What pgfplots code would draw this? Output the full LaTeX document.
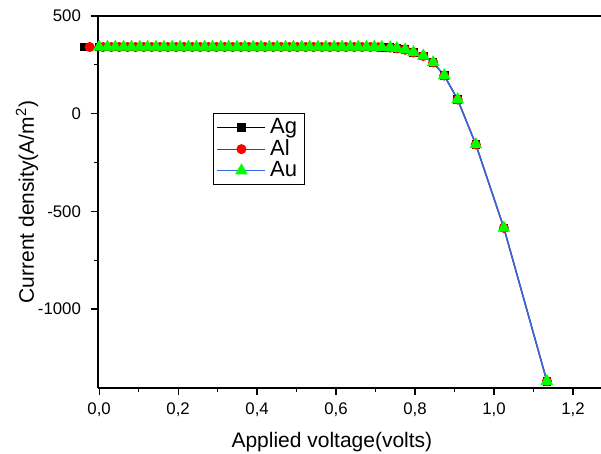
\documentclass[border=0pt]{standalone}
\usepackage{pgfplots}
\pgfplotsset{compat=1.18}
\usepackage{fontspec}
\setmainfont{Liberation Sans}
\definecolor{aublue}{RGB}{50,105,220}
\definecolor{augreen}{RGB}{0,255,0}
\begin{document}
\begin{tikzpicture}
\begin{axis}[
  name=ax,
  x=197.5pt, y=0.0977pt,
  xmin=-0.003, xmax=1.271, ymin=-1404, ymax=500,
  clip=false,
  axis x line*=box, axis y line*=left,
  axis line style={line width=0.75pt},
  every tick/.style={black, line width=0.6pt},
  tick align=outside,
  xtick pos=lower, ytick pos=left,
  major tick length=3.5pt, minor tick length=2pt,
  xtick={0,0.2,0.4,0.6,0.8,1.0,1.2},
  xticklabels={{0,0},{0,2},{0,4},{0,6},{0,8},{1,0},{1,2}},
  ytick={-1000,-500,0,500},
  yticklabels={-1000,-500,0,500},
  minor x tick num=1, minor y tick num=1,
  tick label style={font=\fontsize{8.4}{10}\selectfont},
  yticklabel style={xshift=-1.5pt},
  xticklabel style={yshift=-0.5pt},
  label style={font=\fontsize{10.5}{12}\selectfont},
  xlabel={Applied voltage(volts)},
  ylabel={Current density(A/m\textsuperscript{2})},
  xlabel style={at={(axis description cs:0.465,-0.145)}, anchor=center},
  ylabel style={at={(axis description cs:-0.141,0.5)}, anchor=center},
  legend style={at={(axis description cs:0.229,0.739)}, anchor=north west,
    draw=black, line width=0.5pt, font=\fontsize{11}{12}\selectfont,
    inner xsep=1.5pt, inner ysep=0.5pt, row sep=-2.5pt,
    /tikz/every even column/.append style={column sep=1.5pt}},
  legend cell align=left,
  legend image code/.code={\draw[mark repeat=2,mark phase=2] plot coordinates {(0pt,0pt)(12pt,0pt)(24pt,0pt)};},
]
\addplot[black, line width=0.5pt, mark=square*, mark size=1.9pt, mark options={solid, fill=black, draw=black}] coordinates {
(-0.038,341)(0,341)(0.021,341)(0.041,341)(0.062,341)(0.082,341)(0.103,341)(0.123,341)(0.144,341)(0.164,341)(0.185,341)
(0.205,341)(0.226,341)(0.246,341)(0.267,341)(0.287,341)(0.308,341)(0.328,341)(0.349,341)(0.369,341)(0.390,341)
(0.410,341)(0.431,341)(0.451,341)(0.472,341)(0.492,341)(0.513,341)(0.533,341)(0.554,341)(0.574,341)(0.595,341)
(0.615,341)(0.636,341)(0.656,341)(0.677,341)(0.697,341)(0.716,340)(0.737,338)(0.754,334)(0.775,327)(0.796,313)
(0.821,295)(0.846,262)(0.874,195)(0.908,72)(0.954,-158)(1.025,-585)(1.134,-1370)};
\addlegendentry{Ag}
\addplot[red, line width=0.6pt, mark=*, mark size=2.2pt, mark options={solid, fill=red, draw=red}] coordinates {
(-0.024,341)(0.010,341)(0.031,341)(0.051,341)(0.072,341)(0.092,341)(0.113,341)(0.133,341)(0.154,341)(0.174,341)(0.195,341)
(0.215,341)(0.236,341)(0.256,341)(0.277,341)(0.297,341)(0.318,341)(0.338,341)(0.359,341)(0.379,341)(0.400,341)
(0.420,341)(0.441,341)(0.461,341)(0.482,341)(0.502,341)(0.523,341)(0.543,341)(0.564,341)(0.584,341)(0.605,341)
(0.625,341)(0.646,341)(0.666,341)(0.687,341)(0.707,340)(0.737,338)(0.754,334)(0.775,327)(0.796,313)
(0.821,295)(0.846,262)(0.874,195)(0.908,72)(0.954,-158)(1.025,-585)(1.134,-1370)};
\addlegendentry{Al}
\addplot[aublue, line width=0.8pt, mark=triangle*, mark size=2.9pt, mark options={solid, fill=augreen, draw=augreen}] coordinates {
(0,341)(0.021,341)(0.041,341)(0.062,341)(0.082,341)(0.103,341)(0.123,341)(0.144,341)(0.164,341)(0.185,341)
(0.205,341)(0.226,341)(0.246,341)(0.267,341)(0.287,341)(0.308,341)(0.328,341)(0.349,341)(0.369,341)(0.390,341)
(0.410,341)(0.431,341)(0.451,341)(0.472,341)(0.492,341)(0.513,341)(0.533,341)(0.554,341)(0.574,341)(0.595,341)
(0.615,341)(0.636,341)(0.656,341)(0.677,341)(0.697,341)(0.716,340)(0.737,338)(0.754,334)(0.775,327)(0.796,313)
(0.821,295)(0.846,262)(0.874,195)(0.908,72)(0.954,-158)(1.025,-585)(1.134,-1370)};
\addlegendentry{Au}
\end{axis}
\pgfresetboundingbox
\path[use as bounding box] ([xshift=-49pt,yshift=-33pt]ax.south west) rectangle ([yshift=8pt]ax.north east);
\end{tikzpicture}
\end{document}
